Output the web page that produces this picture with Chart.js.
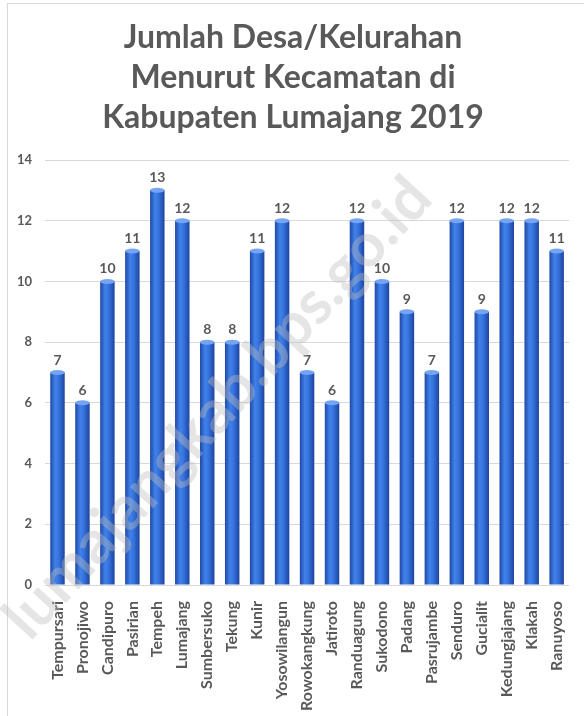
<!DOCTYPE html>
<html>
<head>
<meta charset="utf-8">
<script src="https://cdn.jsdelivr.net/npm/chart.js@4.4.1/dist/chart.umd.min.js"></script>
<style>
    body { margin: 0; background: #fff; }
    #wrap { position: relative; width: 584px; height: 716px; overflow: hidden; }
    #frame { position: absolute; left: 7px; top: 3px; width: 620px; height: 760px; border: 1px solid #d9d9d9; box-sizing: border-box; }
    canvas { position: absolute; left: 0; top: 0; }
</style>
</head>
<body>
<div id="wrap">
    <div id="frame"></div>
    <canvas id="kecChart" width="584" height="716"></canvas>
</div>
<script>
// data kecamatan
var kecamatan = ['Tempursari', 'Pronojiwo', 'Candipuro', 'Pasirian', 'Tempeh', 'Lumajang',
    'Sumbersuko', 'Tekung', 'Kunir', 'Yosowilangun', 'Rowokangkung', 'Jatiroto',
    'Randuagung', 'Sukodono', 'Padang', 'Pasrujambe', 'Senduro', 'Gucialit',
    'Kedungjajang', 'Klakah', 'Ranuyoso'];
var jumlahDesa = [7, 6, 10, 11, 13, 12, 8, 8, 11, 12, 7, 6, 12, 10, 9, 7, 12, 9, 12, 12, 11];
var judul = ['Jumlah Desa/Kelurahan', 'Menurut Kecamatan di', 'Kabupaten Lumajang 2019'];
var yTicks = [0, 2, 4, 6, 8, 10, 12, 14];
var watermark = 'lumajangkab.bps.go.id';

var abu = '#595959';
var lebarBar = 0.58;

// gradient silinder tiap batang
function warnaBatang(c) {
    var chart = c.chart;
    var xs = chart.scales.x;
    if (!xs || !xs.width) return '#2f66cf';
    var x = xs.getPixelForValue(c.dataIndex);
    var w = xs.width / kecamatan.length * lebarBar;
    var g = chart.ctx.createLinearGradient(x - w / 2, 0, x + w / 2, 0);
    g.addColorStop(0, '#1f48a6');
    g.addColorStop(0.35, '#4182ea');
    g.addColorStop(0.6, '#3572dd');
    g.addColorStop(1, '#1d449e');
    return g;
}

var pluginLabel = {
    id: 'labelNilai',
    afterDatasetsDraw: function (chart) {
        var ctx = chart.ctx;
        var meta = chart.getDatasetMeta(0);
        ctx.save();
        meta.data.forEach(function (bar, i) {
            // tutup atas batang
            ctx.beginPath();
            ctx.ellipse(bar.x, bar.y, bar.width / 2, 2.5, 0, 0, Math.PI * 2);
            ctx.fillStyle = '#74a4f3';
            ctx.fill();
            ctx.fillStyle = abu;
            ctx.font = 'bold 14px Lato';
            ctx.textAlign = 'center';
            ctx.textBaseline = 'alphabetic';
            ctx.fillText(jumlahDesa[i], bar.x, bar.y - 8);
        });
        ctx.restore();
    },
    afterDraw: function (chart) {
        var ctx = chart.ctx;
        ctx.save();
        ctx.translate(218, 408);
        ctx.rotate(-47.5 * Math.PI / 180);
        ctx.font = 'bold 61px Lato';
        ctx.textAlign = 'center';
        ctx.textBaseline = 'middle';
        ctx.fillStyle = 'rgba(190,190,190,0.4)';
        ctx.fillText(watermark, 0, 0);
        ctx.restore();
    }
};

var ctx = document.getElementById('kecChart').getContext('2d');
var kecChart = new Chart(ctx, {
    type: 'bar',
    data: {
        labels: kecamatan,
        datasets: [{
            label: 'Jumlah Desa/Kelurahan',
            data: jumlahDesa,
            backgroundColor: warnaBatang,
            borderWidth: 0,
            barPercentage: lebarBar,
            categoryPercentage: 1
        }]
    },
    options: {
        responsive: false,
        animation: false,
        layout: { padding: { left: 8, right: 6, top: 0, bottom: 0 } },
        plugins: {
            legend: { display: false },
            tooltip: { enabled: false },
            title: {
                display: true,
                text: judul,
                color: abu,
                font: { family: 'Lato', size: 32, weight: 'bold', lineHeight: 1.25 },
                padding: { top: 18, bottom: 22 }
            }
        },
        scales: {
            x: {
                grid: { display: false },
                border: { display: false },
                ticks: {
                    color: abu,
                    font: { family: 'Lato', size: 16, weight: 'bold' },
                    minRotation: 90,
                    maxRotation: 90,
                    autoSkip: false,
                    padding: 8
                },
                afterFit: function (s) { s.height = 131; }
            },
            y: {
                min: 0,
                max: 14,
                afterBuildTicks: function (s) {
                    s.ticks = yTicks.map(function (v) { return { value: v }; });
                },
                grid: { color: '#d9d9d9', drawTicks: false },
                border: { display: false },
                ticks: {
                    color: abu,
                    font: { family: 'Lato', size: 13, weight: 'bold' },
                    padding: 13
                },
                afterFit: function (s) { s.width = 37; }
            }
        }
    },
    plugins: [pluginLabel]
});
</script>
</body>
</html>
